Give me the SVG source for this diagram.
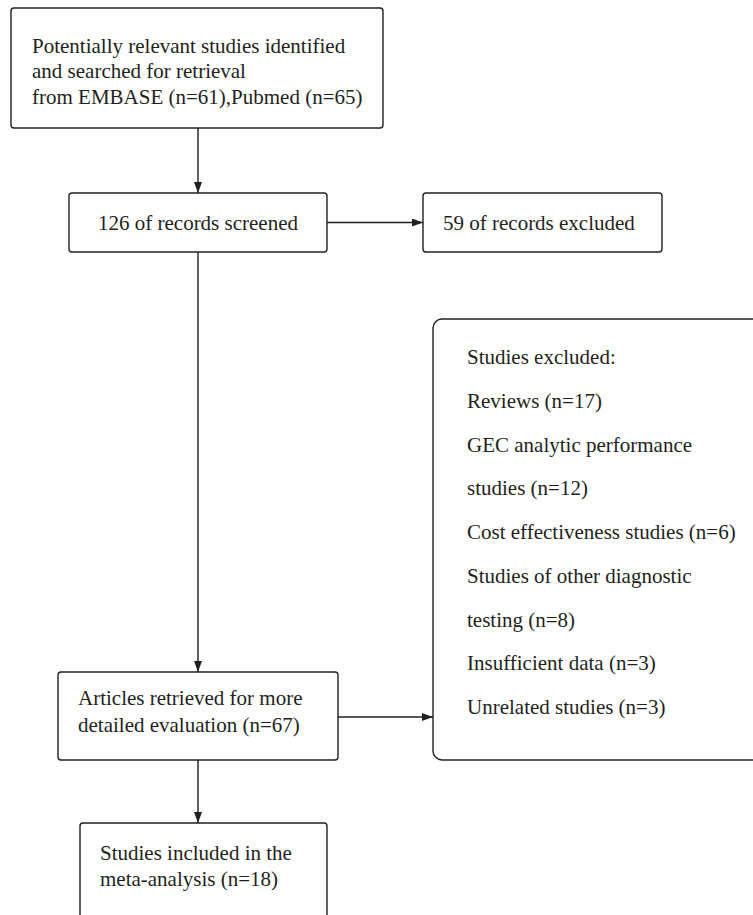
<svg xmlns="http://www.w3.org/2000/svg" width="753" height="915" viewBox="0 0 753 915">
<style>
.box{fill:#fff;stroke:#231f20;stroke-width:1.4}
.t{font-family:"Liberation Serif","Times New Roman",serif;font-size:21px;fill:#231f20}
.c{fill:none;stroke:#231f20;stroke-width:1.4}
</style>
<defs>
<marker id="ah" viewBox="0 0 11 8" refX="11" refY="4" markerWidth="11" markerHeight="8" markerUnits="userSpaceOnUse" orient="auto">
<path d="M0,0 L11,4 L0,8 Z" fill="#231f20"/>
</marker>
</defs>
<rect width="753" height="915" fill="#fff"/>
<g id="connectors">
<line class="c" x1="198" y1="128" x2="198" y2="193" marker-end="url(#ah)"/>
<line class="c" x1="327" y1="222.5" x2="423" y2="222.5" marker-end="url(#ah)"/>
<line class="c" x1="198" y1="252" x2="198" y2="672" marker-end="url(#ah)"/>
<line class="c" x1="338" y1="717" x2="433" y2="717" marker-end="url(#ah)"/>
<line class="c" x1="198" y1="760" x2="198" y2="823" marker-end="url(#ah)"/>
</g>
<g id="n1">
<rect class="box" x="11" y="8" width="372" height="120" rx="3"/>
<text class="t" x="32" y="52.5">Potentially relevant studies identified</text>
<text class="t" x="32" y="78">and searched for retrieval</text>
<text class="t" x="32" y="103.5">from EMBASE (n=61),Pubmed (n=65)</text>
</g>
<g id="n2">
<rect class="box" x="69" y="193" width="258" height="59" rx="3"/>
<text class="t" x="198" y="229.5" text-anchor="middle">126 of records screened</text>
</g>
<g id="n3">
<rect class="box" x="423" y="193" width="239" height="59" rx="3"/>
<text class="t" x="443" y="229.5">59 of records excluded</text>
</g>
<g id="n4">
<rect class="box" x="433" y="319" width="380" height="441" rx="9"/>
<text class="t" x="467" y="364">Studies excluded:</text>
<text class="t" x="467" y="407.75">Reviews (n=17)</text>
<text class="t" x="467" y="451.5">GEC analytic performance</text>
<text class="t" x="467" y="495.25">studies (n=12)</text>
<text class="t" x="467" y="539">Cost effectiveness studies (n=6)</text>
<text class="t" x="467" y="582.75">Studies of other diagnostic</text>
<text class="t" x="467" y="626.5">testing (n=8)</text>
<text class="t" x="467" y="670.25">Insufficient data (n=3)</text>
<text class="t" x="467" y="714">Unrelated studies (n=3)</text>
</g>
<g id="n5">
<rect class="box" x="58" y="672" width="280" height="88" rx="3"/>
<text class="t" x="78" y="705">Articles retrieved for more</text>
<text class="t" x="78" y="731.7">detailed evaluation (n=67)</text>
</g>
<g id="n6">
<rect class="box" x="80" y="823" width="247" height="140" rx="3"/>
<text class="t" x="100" y="860">Studies included in the</text>
<text class="t" x="100" y="886">meta-analysis (n=18)</text>
</g>
</svg>
